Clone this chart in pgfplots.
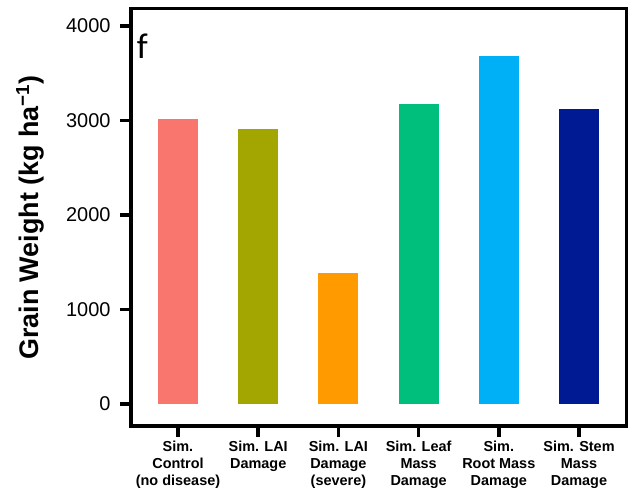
\documentclass[border=0pt]{standalone}
\usepackage{pgfplots}
\pgfplotsset{compat=1.18}
\usetikzlibrary{calc}
\usepackage{fontspec}
\setmainfont{Liberation Sans}
\newfontfamily\carlito{Carlito}
\definecolor{c1}{HTML}{F8766D}
\definecolor{c2}{HTML}{A3A500}
\definecolor{c3}{HTML}{FF9B00}
\definecolor{c4}{HTML}{00BF7D}
\definecolor{c5}{HTML}{00B0F6}
\definecolor{c6}{HTML}{001A94}
\begin{document}
\begin{tikzpicture}
\begin{axis}[name=ax,
  scale only axis, width=495bp, height=417bp,
  xmin=-0.586, xmax=5.586, ymin=-233, ymax=4180,
  axis line style={line width=3bp},
  axis background/.style={draw=black, line width=3bp},
  ytick={0,1000,2000,3000,4000},
  xtick={0,1,2,3,4,5},
  xticklabels={{Sim.\\Control\\(no disease)},{Sim. LAI\\Damage},{Sim. LAI\\Damage\\(severe)},{Sim. Leaf\\Mass\\Damage},{Sim.\\Root Mass\\Damage},{Sim. Stem\\Mass\\Damage}},
  tick align=outside, major tick length=11bp,
  every tick/.style={line width=3.5bp, black},
  xtick pos=left, ytick pos=left,
  /pgf/number format/assume math mode=true,
  /pgf/number format/1000 sep={},
  yticklabel style={font=\fontsize{20}{22}\selectfont, xshift=-6bp},
  xticklabel style={font=\bfseries\fontsize{14.5}{16.7}\selectfont, align=center, anchor=north, yshift=-1bp},
  ylabel={Grain Weight (kg ha\textsuperscript{−1})},
  every axis y label/.style={at={(axis description cs:-0.204,0.5)}, rotate=90, anchor=center, font=\bfseries\fontsize{27}{30}\selectfont},
]
\addplot[ybar, bar width=0.5, fill=c1, draw=none] coordinates {(0,3020)};
\addplot[ybar, bar width=0.5, fill=c2, draw=none] coordinates {(1,2910)};
\addplot[ybar, bar width=0.5, fill=c3, draw=none] coordinates {(2,1388)};
\addplot[ybar, bar width=0.5, fill=c4, draw=none] coordinates {(3,3175)};
\addplot[ybar, bar width=0.5, fill=c5, draw=none] coordinates {(4,3683)};
\addplot[ybar, bar width=0.5, fill=c6, draw=none] coordinates {(5,3125)};
\node[anchor=west, font=\carlito\fontsize{36}{40}\selectfont] at (axis description cs:0.005,0.91) {f};
\end{axis}
\draw[line width=3bp, black] (ax.south west) rectangle (ax.north east);
\path ($(ax.south west)+(-131bp,-68bp)$) -- ($(ax.north east)+(14bp,9bp)$);
\end{tikzpicture}
\end{document}
